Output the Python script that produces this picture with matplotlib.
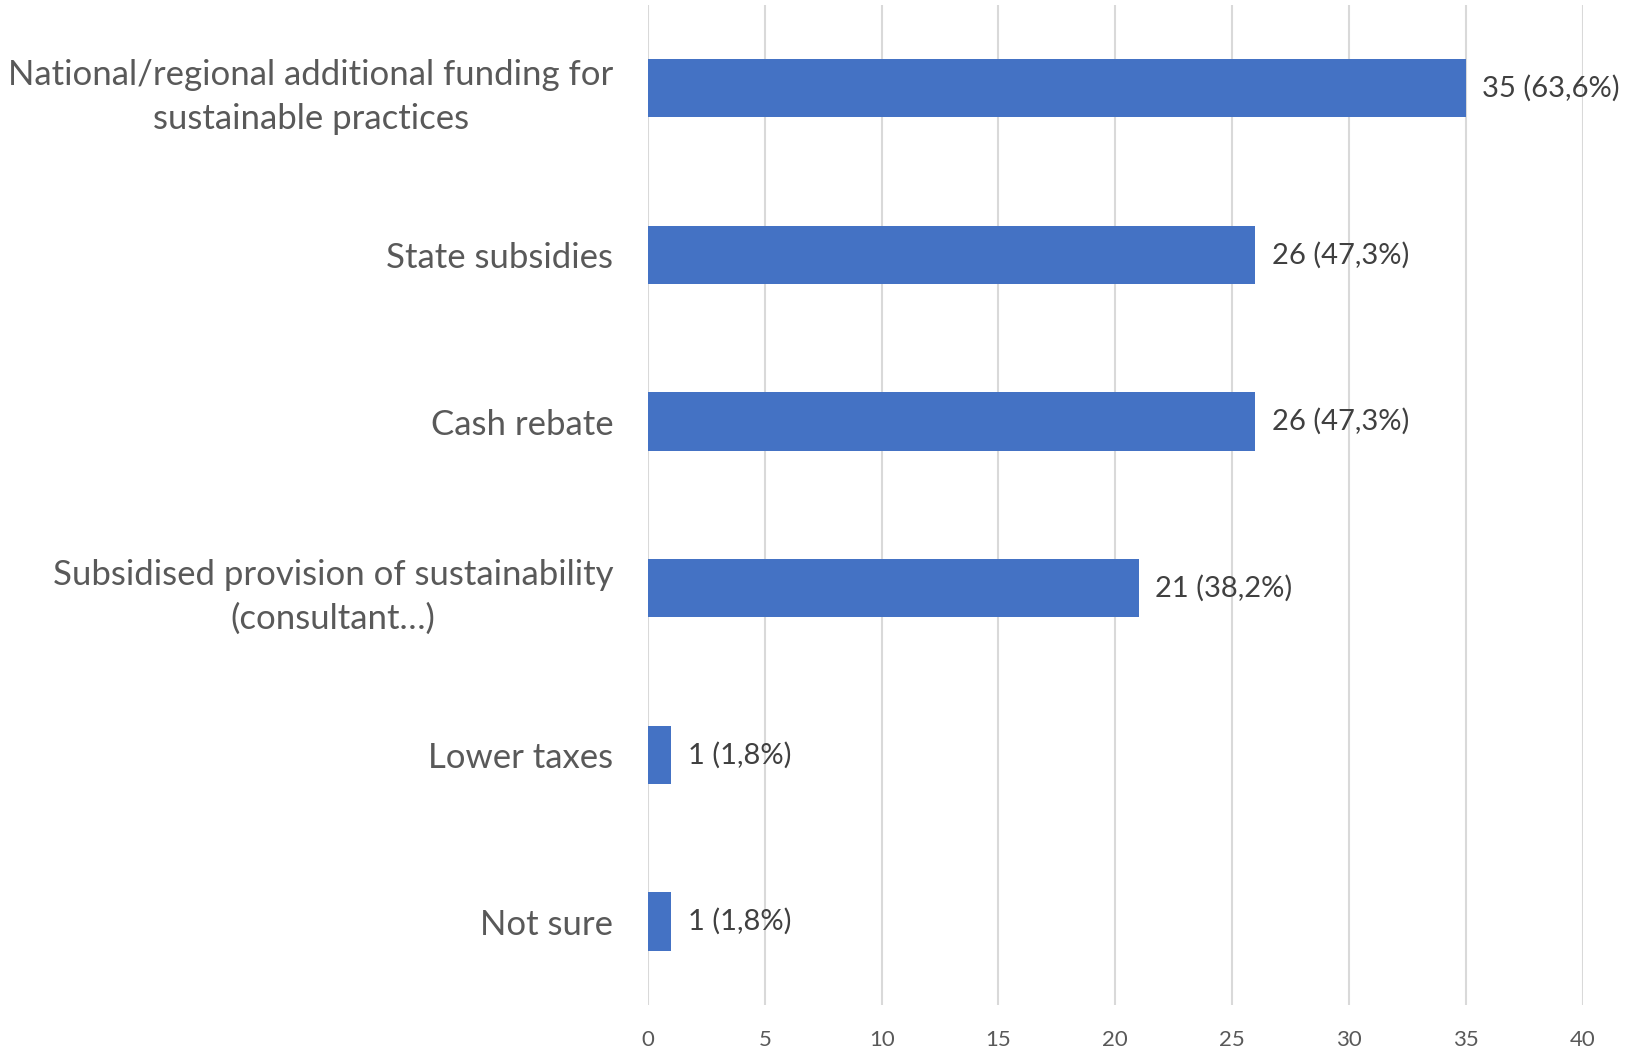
import matplotlib.pyplot as plt

# survey answers, top to bottom
categories = [
    "National/regional additional funding for\nsustainable practices",
    "State subsidies",
    "Cash rebate",
    "Subsidised provision of sustainability\n(consultant\u2026)",
    "Lower taxes",
    "Not sure",
]
counts = [35, 26, 26, 21, 1, 1]
shares = ["63,6%", "47,3%", "47,3%", "38,2%", "1,8%", "1,8%"]

plt.rcParams['font.family'] = ['Lato', 'DejaVu Sans']

fig = plt.figure(figsize=(16.26, 10.53), dpi=100)
ax = fig.add_axes([0.3985, 0.0456, 0.5748, 0.9497])

ypos = list(range(len(categories)))
bars = ax.barh(ypos, counts, height=0.35, color='#4472C4', zorder=3)

for b, c, s in zip(bars, counts, shares):
    ax.annotate(f"{c} ({s})", (b.get_width(), b.get_y() + b.get_height() / 2),
                xytext=(12, 0), textcoords='offset points', va='center',
                ha='left', fontsize=21, color='#404040')

ax.set_xlim(0, 40)
ax.set_ylim(len(categories) - 0.5, -0.5)
ax.set_xticks(range(0, 41, 5))
ax.set_yticks(ypos)
ax.set_yticklabels(categories, fontsize=25, color='#595959')
ax.tick_params(axis='x', length=0, labelsize=16, labelcolor='#595959', pad=18)

for lbl in ax.get_yticklabels():
    lbl.set_multialignment('center')
    lbl.set_linespacing(1.45)
ax.tick_params(axis='y', length=0, pad=25)

ax.grid(axis='x', color='#D9D9D9', linewidth=1.5, zorder=0)
for sp in ax.spines.values():
    sp.set_visible(False)

fig.savefig('out.png', dpi=100)
